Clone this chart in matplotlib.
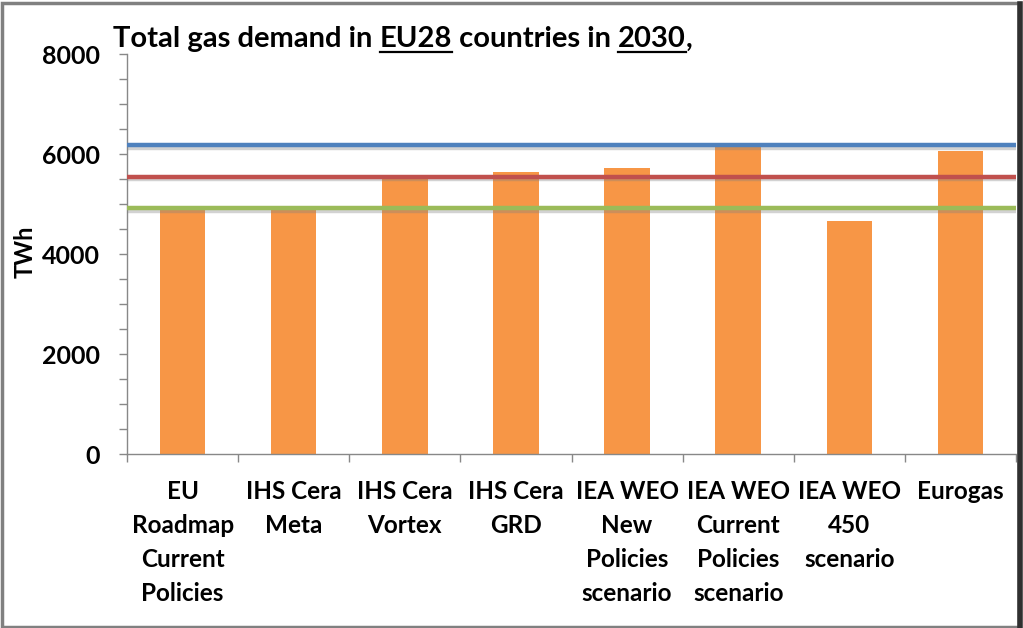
import matplotlib
matplotlib.use("Agg")
import matplotlib.pyplot as plt
import matplotlib.patheffects as pe
from matplotlib.patches import Rectangle
from matplotlib.lines import Line2D
from matplotlib.ticker import MultipleLocator, FixedLocator

plt.rcParams['font.family'] = ['Lato', 'DejaVu Sans']

categories = ["EU\nRoadmap\nCurrent\nPolicies", "IHS Cera\nMeta", "IHS Cera\nVortex",
              "IHS Cera\nGRD", "IEA WEO\nNew\nPolicies\nscenario",
              "IEA WEO\nCurrent\nPolicies\nscenario", "IEA WEO\n450\nscenario", "Eurogas"]
demand = [4900, 4900, 5550, 5640, 5720, 6140, 4660, 6060]
ref_lines = [6180, 5550, 4920]
ref_colors = ["#4F81BD", "#C0504D", "#9BBB59"]
yticks = [0, 2000, 4000, 6000, 8000]
title_parts = [("Total gas demand in ", False), ("EU28", True), (" countries in ", False),
               ("2030", True), (",", False)]

W, H = 1023, 628
fig = plt.figure(figsize=(W / 100, H / 100), dpi=100)
ax = fig.add_axes([127 / W, 1 - 454 / H, (1016 - 127) / W, (454 - 54) / H])

x = list(range(len(categories)))
ax.bar(x, demand, width=0.41, color="#F79646", zorder=2)
for v, c in zip(ref_lines, ref_colors):
    ax.axhline(v, color=c, lw=3.2, zorder=3,
               path_effects=[pe.SimpleLineShadow(offset=(0, -1.8), shadow_color='gray', alpha=0.35),
                             pe.Normal()])

ax.set_xlim(-0.5, len(categories) - 0.5)
ax.set_ylim(0, 8000)
ax.set_yticks(yticks)
ax.yaxis.set_minor_locator(MultipleLocator(500))
ax.set_yticklabels([str(t) for t in yticks], fontsize=18, fontweight='bold')
ax.tick_params(axis='y', which='both', direction='out', length=6, width=1, color='#888888', pad=13.5)

ax.xaxis.set_major_locator(FixedLocator(x))
ax.xaxis.set_minor_locator(FixedLocator([i - 0.5 for i in range(len(categories) + 1)]))
ax.set_xticklabels(categories, fontsize=17.5, fontweight='bold', linespacing=1.58, va='top')
ax.tick_params(axis='x', which='major', length=0, pad=19)
ax.tick_params(axis='x', which='minor', direction='out', length=6, width=1, color='#888888')

for s in ['top', 'right']:
    ax.spines[s].set_visible(False)
for s in ['left', 'bottom']:
    ax.spines[s].set_color('#888888')
    ax.spines[s].set_linewidth(1)

fig.text(25 / W, 1 - 252 / H, "TWh", rotation=90, fontsize=17, fontweight='bold',
         ha='center', va='center')

# Title with underlined parts
fig.canvas.draw()
renderer = fig.canvas.get_renderer()
xpos = 113 / W
ybase = 1 - 47 / H
for txt, ul in title_parts:
    t = fig.text(xpos, ybase, txt, fontsize=21, fontweight='bold', ha='left', va='baseline')
    bb = t.get_window_extent(renderer=renderer)
    if ul:
        uy = ybase - 4.5 / H
        fig.add_artist(Line2D([bb.x0 / W, bb.x1 / W], [uy, uy], transform=fig.transFigure,
                              color='black', lw=1.6))
    xpos = bb.x1 / W

# Figure border
fig.add_artist(Rectangle((1.5 / W, 1.5 / H), (W - 6) / W, (H - 4) / H, transform=fig.transFigure,
                         fill=False, edgecolor='#808080', lw=2.5))
fig.add_artist(Line2D([(W - 3) / W, (W - 3) / W], [0, 1 - 4 / H], transform=fig.transFigure,
                      color='#303030', lw=4))

fig.savefig("out.png", dpi=100)
